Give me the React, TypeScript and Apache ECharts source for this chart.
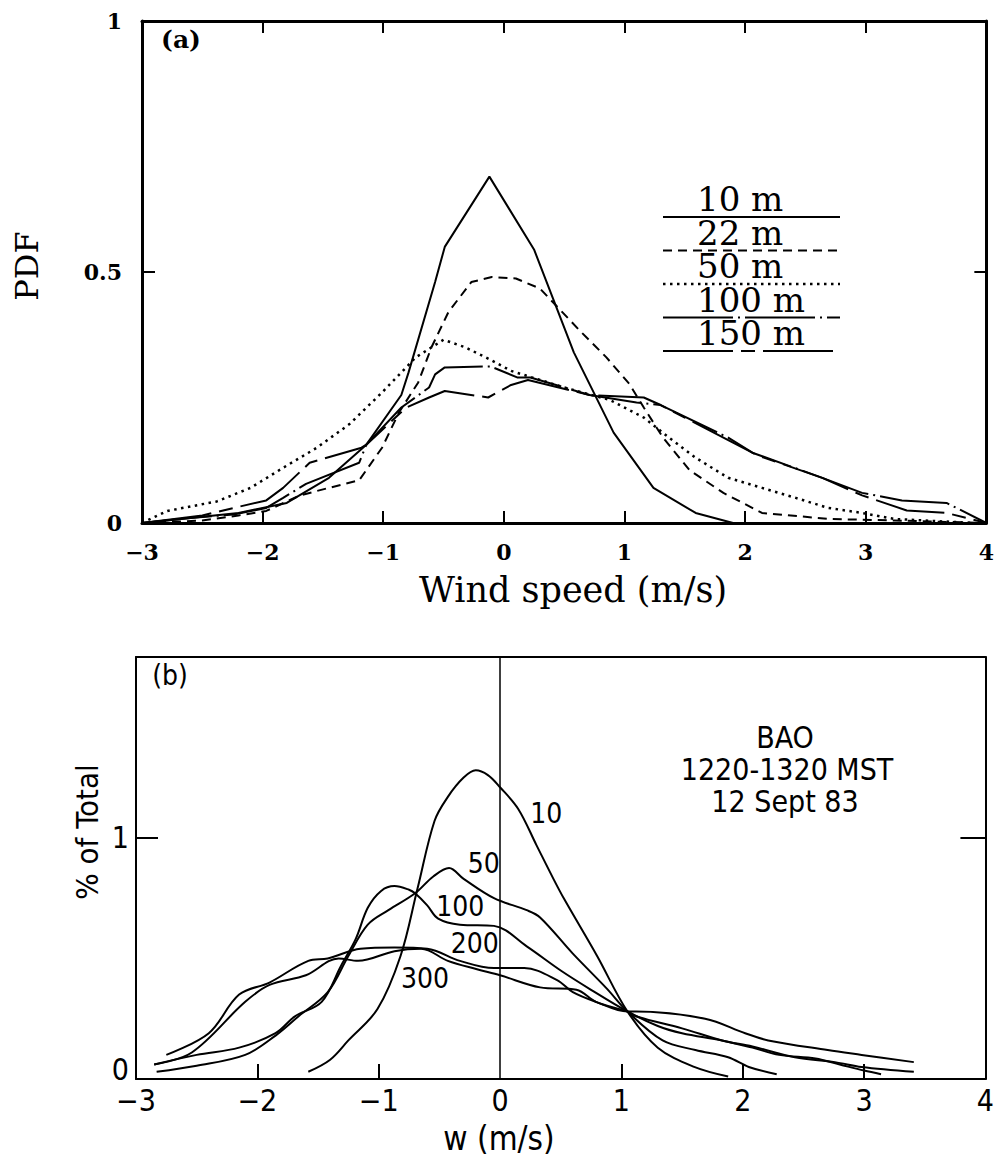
import React, { useEffect, useRef } from "react";
import * as echarts from "echarts";

// ---------- Panel (a): PDF of wind speed ----------
const aNames = ["10 m", "22 m", "50 m", "100 m", "150 m"];
const a10 = [[-3, 0], [-2.6, 0.01], [-2.2, 0.02], [-1.8, 0.04], [-1.45, 0.09], [-1.14, 0.156], [-0.85, 0.255], [-0.79, 0.3], [-0.57, 0.48], [-0.49, 0.55], [-0.12, 0.69], [0.25, 0.545], [0.58, 0.34], [0.91, 0.18], [1.24, 0.07], [1.59, 0.02], [1.9, 0]];
const a22 = [[-3, 0], [-2.5, 0.005], [-2.2, 0.015], [-1.97, 0.024], [-1.69, 0.055], [-1.45, 0.07], [-1.2, 0.085], [-1.01, 0.15], [-0.87, 0.22], [-0.71, 0.28], [-0.6, 0.35], [-0.46, 0.42], [-0.27, 0.48], [-0.1, 0.49], [0.1, 0.487], [0.3, 0.467], [0.63, 0.383], [0.85, 0.33], [1.04, 0.277], [1.16, 0.23], [1.32, 0.17], [1.54, 0.105], [1.82, 0.06], [2.14, 0.02], [2.7, 0.008], [3.24, 0.005], [4, 0]];
const a50 = [[-3, 0], [-2.79, 0.024], [-2.38, 0.043], [-2.1, 0.07], [-1.83, 0.11], [-1.55, 0.15], [-1.28, 0.197], [-1.01, 0.26], [-0.73, 0.33], [-0.5, 0.365], [-0.32, 0.35], [-0.11, 0.325], [0.06, 0.303], [0.5, 0.27], [0.88, 0.245], [1.16, 0.21], [1.37, 0.17], [1.59, 0.13], [1.86, 0.09], [2.14, 0.07], [2.42, 0.05], [2.69, 0.03], [2.97, 0.02], [3.24, 0.008], [3.9, 0]];
const a100 = [[-3, 0], [-2.6, 0.01], [-2.24, 0.017], [-1.97, 0.03], [-1.83, 0.05], [-1.64, 0.078], [-1.2, 0.12], [-1.14, 0.156], [-0.85, 0.23], [-0.62, 0.27], [-0.57, 0.296], [-0.49, 0.31], [-0.11, 0.312], [0.11, 0.29], [0.22, 0.29], [0.71, 0.255], [1.1, 0.24], [1.3, 0.235], [1.43, 0.22], [1.86, 0.17], [2.06, 0.14], [2.64, 0.09], [2.97, 0.06], [3.3, 0.045], [3.67, 0.04], [4, 0]];
const a150 = [[-3, 0], [-2.5, 0.015], [-2.24, 0.03], [-1.97, 0.045], [-1.83, 0.07], [-1.61, 0.12], [-1.18, 0.15], [-1.14, 0.156], [-0.81, 0.23], [-0.62, 0.25], [-0.49, 0.263], [-0.13, 0.25], [0.06, 0.275], [0.2, 0.285], [0.71, 0.255], [1.16, 0.25], [1.3, 0.235], [1.5, 0.21], [1.86, 0.165], [2.1, 0.135], [2.64, 0.09], [2.97, 0.055], [3.34, 0.025], [3.67, 0.02], [4, 0]];
const aXLabels = [-3, -2, -1, 0, 1, 2, 3, 4];
const aXTicks = [-2, -1, 0, 1, 2, 3];
const aYLabels = [0, 0.5, 1];
const aYTicks = [0.5];

// ---------- Panel (b): % of total vs w ----------
const bNames = ["10", "50", "100", "200", "300"];
const b10 = [[-1.58, 0.03], [-1.4, 0.08], [-1.25, 0.16], [-1.01, 0.29], [-0.82, 0.51], [-0.68, 0.79], [-0.54, 1.07], [-0.43, 1.17], [-0.3, 1.25], [-0.2, 1.28], [-0.1, 1.26], [0, 1.21], [0.15, 1.12], [0.3, 0.97], [0.44, 0.83], [0.53, 0.745], [0.8, 0.51], [1.05, 0.28], [1.3, 0.13], [1.6, 0.05], [1.88, 0.01]];
const b50 = [[-2.83, 0.03], [-2.5, 0.055], [-2.1, 0.1], [-1.85, 0.18], [-1.66, 0.26], [-1.42, 0.36], [-1.25, 0.51], [-1.09, 0.64], [-0.92, 0.7], [-0.7, 0.77], [-0.55, 0.84], [-0.42, 0.875], [-0.3, 0.83], [-0.05, 0.75], [0.22, 0.7], [0.33, 0.67], [0.6, 0.52], [0.88, 0.375], [1.05, 0.28], [1.34, 0.16], [1.61, 0.12], [1.88, 0.09], [2.05, 0.05], [2.28, 0.02]];
const b100 = [[-2.85, 0.06], [-2.5, 0.1], [-2.15, 0.13], [-1.85, 0.19], [-1.69, 0.26], [-1.47, 0.32], [-1.31, 0.47], [-1.19, 0.58], [-1.09, 0.71], [-0.98, 0.78], [-0.87, 0.8], [-0.75, 0.785], [-0.7, 0.77], [-0.6, 0.72], [-0.51, 0.665], [-0.33, 0.64], [-0.05, 0.635], [0.22, 0.55], [0.5, 0.45], [0.75, 0.37], [1.05, 0.28], [1.3, 0.22], [1.5, 0.19], [1.83, 0.16], [2.08, 0.13], [2.3, 0.1], [2.6, 0.085], [2.8, 0.06], [3.0, 0.035], [3.14, 0.02]];
const b200 = [[-2.75, 0.1], [-2.4, 0.19], [-2.15, 0.35], [-1.9, 0.4], [-1.58, 0.49], [-1.42, 0.5], [-1.15, 0.54], [-0.87, 0.545], [-0.6, 0.54], [-0.33, 0.49], [-0.05, 0.46], [0.2, 0.46], [0.47, 0.41], [0.6, 0.36], [0.79, 0.32], [1.05, 0.28], [1.12, 0.28], [1.69, 0.25], [2.02, 0.19], [2.21, 0.16], [2.7, 0.12], [2.98, 0.1], [3.41, 0.07]];
const b300 = [[-2.85, 0.06], [-2.54, 0.11], [-2.1, 0.32], [-1.9, 0.39], [-1.6, 0.43], [-1.33, 0.5], [-1.17, 0.49], [-0.87, 0.53], [-0.65, 0.54], [-0.43, 0.49], [-0.19, 0.455], [0, 0.43], [0.33, 0.38], [0.63, 0.37], [0.79, 0.32], [1.05, 0.28], [1.12, 0.26], [1.5, 0.21], [1.83, 0.16], [2.08, 0.135], [2.43, 0.09], [2.76, 0.07], [2.98, 0.05], [3.41, 0.03]];
const bLabelAt = [[0.245, 1.1], [-0.27, 0.895], [-0.53, 0.716], [-0.41, 0.563], [-0.82, 0.415]];
const bXLabels = [-3, -2, -1, 0, 1, 2, 3, 4];
const bXTicks = [-2, -1, 1, 2, 3];
const bYLabels = [0, 1];
const bYTicks = [1];
const bNotes = ["BAO", "1220-1320 MST", "12 Sept 83"];

const INK = "#000";
const SERIF = "'DejaVu Serif', 'Liberation Serif', serif";
const NARROW = "'Liberation Sans Narrow', 'DejaVu Sans Condensed', 'Liberation Sans', sans-serif";

const aData = [a10, a22, a50, a100, a150];
const aDash: any[] = ["solid", [9, 6], [2.5, 4.5], [70, 5, 2, 5], [70, 8, 14, 8]];
const bData = [b10, b50, b100, b200, b300];

const minus = (v: number) => (v < 0 ? "\u2212" + Math.abs(v) : String(v));

export default function App() {
  const ref = useRef<HTMLDivElement>(null);
  useEffect(() => {
    document.body.style.margin = "0";
    const chart = echarts.init(ref.current!, null, { renderer: "svg" });

    const seriesA = aData.map((d, i) => ({
      name: aNames[i],
      type: "line",
      xAxisIndex: 0,
      yAxisIndex: 0,
      data: d,
      symbol: "none",
      smooth: false,
      lineStyle: { color: INK, width: i === 2 ? 2.5 : 2, type: aDash[i] },
    }));

    const seriesB: any[] = bData.map((d, i) => ({
      name: bNames[i],
      type: "line",
      xAxisIndex: 2,
      yAxisIndex: 2,
      data: d,
      symbol: "none",
      smooth: 0.35,
      lineStyle: { color: INK, width: 2 },
    }));
    seriesB[0].markLine = {
      symbol: "none",
      silent: true,
      label: { show: false },
      lineStyle: { color: INK, width: 1.5, type: "solid" },
      data: [{ xAxis: 0 }],
    };
    seriesB.push({
      type: "scatter",
      xAxisIndex: 2,
      yAxisIndex: 2,
      symbolSize: 1,
      itemStyle: { color: "rgba(0,0,0,0)" },
      data: bLabelAt.map((p, i) => [p[0], p[1], bNames[i]]),
      label: {
        show: true,
        position: "right",
        distance: 0,
        formatter: (p: any) => p.data[2],
        color: "#000",
        opacity: 1,
        fontFamily: NARROW,
        fontSize: 28,
      },
    });

    const axLine = (w: number) => ({ onZero: false, lineStyle: { color: INK, width: w } });

    // legend for panel (a) drawn as text over a sample line
    const legendTop = 199;
    const legendStep = 33.5;
    const legendGraphics: any[] = [];
    aNames.forEach((n, i) => {
      const cy = legendTop + i * legendStep;
      legendGraphics.push({
        type: "text",
        x: 697,
        y: cy,
        style: { text: n, fill: INK, font: `34px ${SERIF}`, align: "left", verticalAlign: "middle", textAlign: "left", textVerticalAlign: "middle" },
      });
      legendGraphics.push({
        type: "line",
        shape: { x1: 663, y1: cy + 18, x2: 840, y2: cy + 18 },
        style: {
          stroke: INK,
          lineWidth: i === 2 ? 2.5 : 2,
          lineDash: aDash[i] === "solid" ? null : aDash[i],
        },
      });
    });

    const txt = (text: string, x: number, y: number, font: string, extra: any = {}) => ({
      type: "text",
      x,
      y,
      ...extra,
      style: { text, fill: INK, font, align: "center", verticalAlign: "middle", textAlign: "center", textVerticalAlign: "middle" },
    });

    const option: any = {
      animation: false,
      backgroundColor: "#fff",
      grid: [
        { left: 142, top: 21, width: 851, height: 502 },
        { left: 136, top: 657, width: 855, height: 422 },
      ],
      xAxis: [
        {
          gridIndex: 0, type: "value", min: -3, max: 4, interval: 1, position: "bottom",
          axisLine: axLine(3),
          axisTick: { inside: true, length: 12, customValues: aXTicks, lineStyle: { color: INK, width: 2 } },
          axisLabel: { customValues: aXLabels, formatter: minus, color: INK, fontFamily: SERIF, fontWeight: "bold", fontSize: 22, margin: 18 },
          splitLine: { show: false },
        },
        {
          gridIndex: 0, type: "value", min: -3, max: 4, interval: 1, position: "top",
          axisLine: axLine(3),
          axisTick: { inside: true, length: 12, customValues: aXTicks, lineStyle: { color: INK, width: 2 } },
          axisLabel: { show: false },
          splitLine: { show: false },
        },
        {
          gridIndex: 1, type: "value", min: -3, max: 4, interval: 1, position: "bottom",
          axisLine: axLine(2),
          axisTick: { inside: true, length: 15, customValues: bXTicks, lineStyle: { color: INK, width: 2 } },
          axisLabel: { customValues: bXLabels, formatter: minus, color: INK, fontFamily: NARROW, fontSize: 30, margin: 6 },
          splitLine: { show: false },
        },
        {
          gridIndex: 1, type: "value", min: -3, max: 4, interval: 1, position: "top",
          axisLine: axLine(2),
          axisTick: { show: false },
          axisLabel: { show: false },
          splitLine: { show: false },
        },
      ],
      yAxis: [
        {
          gridIndex: 0, type: "value", min: 0, max: 1, interval: 0.5, position: "left",
          axisLine: axLine(3),
          axisTick: { inside: true, length: 13, customValues: aYTicks, lineStyle: { color: INK, width: 2 } },
          axisLabel: { customValues: aYLabels, color: INK, fontFamily: SERIF, fontWeight: "bold", fontSize: 22, margin: 20 },
          splitLine: { show: false },
        },
        {
          gridIndex: 0, type: "value", min: 0, max: 1, interval: 0.5, position: "right",
          axisLine: axLine(3),
          axisTick: { inside: true, length: 12, customValues: aYTicks, lineStyle: { color: INK, width: 2 } },
          axisLabel: { show: false },
          splitLine: { show: false },
        },
        {
          gridIndex: 1, type: "value", min: 0, max: 1.75, interval: 0.25, position: "left",
          axisLine: axLine(2),
          axisTick: { inside: true, length: 22, customValues: bYTicks, lineStyle: { color: INK, width: 2 } },
          axisLabel: {
            customValues: bYLabels,
            color: INK,
            fontFamily: NARROW,
            fontSize: 30,
            margin: 7,
            formatter: (v: number) => (v === 0 ? "{z|0}" : String(v)),
            rich: { z: { fontFamily: NARROW, fontSize: 30, color: INK, padding: [0, 0, 20, 0] } },
          },
          splitLine: { show: false },
        },
        {
          gridIndex: 1, type: "value", min: 0, max: 1.75, interval: 0.25, position: "right",
          axisLine: axLine(2),
          axisTick: { inside: true, length: 25, customValues: bYTicks, lineStyle: { color: INK, width: 2 } },
          axisLabel: { show: false },
          splitLine: { show: false },
        },
      ],
      graphic: [
        txt("(a)", 181, 39, `bold 25px ${SERIF}`),
        txt("PDF", 27, 266, `32px ${SERIF}`, { rotation: Math.PI / 2 }),
        txt("Wind speed (m/s)", 573, 590, `35px ${SERIF}`),
        ...legendGraphics,
        txt("(b)", 170, 675, `28px ${NARROW}`),
        txt("% of Total", 87, 832, `31px ${NARROW}`, { rotation: Math.PI / 2 }),
        txt("w (m/s)", 499, 1138, `33px ${NARROW}`),
        txt(bNotes[0], 785, 737, `30px ${NARROW}`),
        txt(bNotes[1], 787, 769, `30px ${NARROW}`),
        txt(bNotes[2], 785, 801, `30px ${NARROW}`),
      ],
      series: [...seriesA, ...seriesB],
    };
    chart.setOption(option);
    return () => chart.dispose();
  }, []);
  return <div ref={ref} style={{ width: 997, height: 1158 }} />;
}
